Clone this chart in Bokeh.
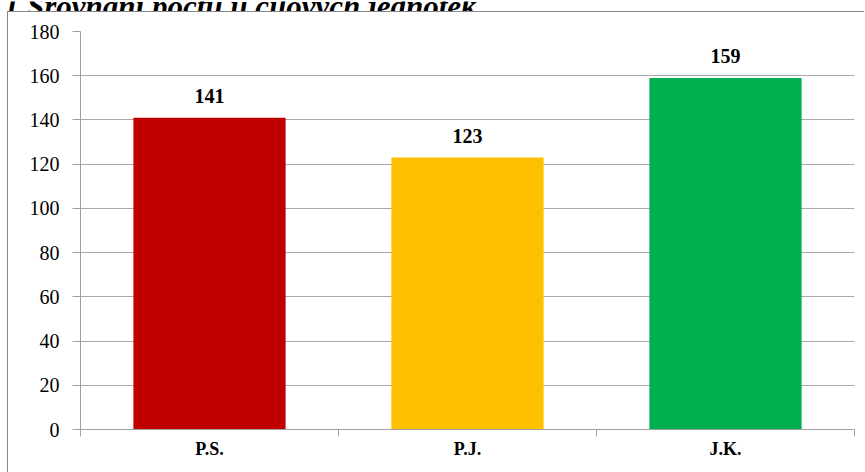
from bokeh.plotting import figure
from bokeh.layouts import column, row
from bokeh.models import (ColumnDataSource, Range1d, FixedTicker, LabelSet, Label)
from bokeh.embed import file_html
from bokeh.resources import INLINE

categories = ["P.S.", "P.J.", "J.K."]
values = [141, 123, 159]
colors = ["#C00000", "#FFC000", "#00B050"]
y_ticks = [0, 20, 40, 60, 80, 100, 120, 140, 160, 180]
title_text = "Graf č. 1 Srovnání počtu u cílových jednotek"

FONT = "Liberation Serif"

# --- title strip (text is cut by the top edge, as in the reference) ---
t = figure(width=865, height=11, output_backend="svg", toolbar_location=None,
           x_range=Range1d(0, 865), y_range=Range1d(0, 11),
           x_axis_location=None, y_axis_location=None,
           min_border=0, min_border_left=0, min_border_right=0,
           min_border_top=0, min_border_bottom=0)
t.outline_line_color = None
t.xgrid.visible = False
t.ygrid.visible = False
t.add_layout(Label(x=476, y=6, text=title_text, text_font=FONT,
                   text_font_style="bold italic", text_font_size="31px",
                   text_baseline="alphabetic", text_align="right",
                   text_color="black"))

# --- chart ---
xs = [i + 0.5 for i in range(len(categories))]
src = ColumnDataSource(dict(x=xs, top=values, color=colors,
                            label=[str(v) for v in values]))

p = figure(width=857, height=461, output_backend="svg", toolbar_location=None,
           x_range=Range1d(0, len(categories)), y_range=Range1d(0, 180),
           min_border_left=72, min_border_right=11, min_border_top=19,
           min_border_bottom=44)
p.margin = (0, 0, 0, 7)
p.styles = {"border-left": "1px solid #888888", "border-top": "1px solid #888888"}
p.outline_line_color = None
p.background_fill_color = "white"
p.border_fill_color = "white"

p.vbar(x="x", top="top", width=0.59, bottom=0, fill_color="color",
       line_color=None, source=src)

# y axis
p.yaxis.ticker = FixedTicker(ticks=y_ticks)
p.yaxis.axis_line_color = "#A0A0A0"
p.yaxis.major_tick_line_color = "#A0A0A0"
p.yaxis.major_tick_out = 8
p.yaxis.major_tick_in = 0
p.yaxis.minor_tick_line_color = None
p.yaxis.major_label_standoff = 13
p.yaxis.major_label_text_font = FONT
p.yaxis.major_label_text_font_size = "20px"
p.yaxis.major_label_text_color = "black"

# x axis: labels at centres, tick marks at category boundaries
p.xaxis.ticker = FixedTicker(ticks=xs, minor_ticks=list(range(len(categories) + 1)))
p.xaxis.major_label_overrides = {x: c for x, c in zip(xs, categories)}
p.xaxis.major_tick_line_color = None
p.xaxis.major_tick_out = 0
p.xaxis.major_tick_in = 0
p.xaxis.minor_tick_line_color = "#A0A0A0"
p.xaxis.minor_tick_out = 7
p.xaxis.minor_tick_in = 0
p.xaxis.axis_line_color = "#A0A0A0"
p.xaxis.major_label_standoff = 2
p.xaxis.major_label_text_font = FONT
p.xaxis.major_label_text_font_style = "bold"
p.xaxis.major_label_text_font_size = "18px"
p.xaxis.major_label_text_color = "black"

p.xgrid.grid_line_color = None
p.ygrid.ticker = FixedTicker(ticks=y_ticks)
p.ygrid.grid_line_color = "#A8A8A8"

labels = LabelSet(x="x", y="top", text="label", source=src, y_offset=15,
                  text_align="center", text_baseline="bottom",
                  text_font=FONT, text_font_style="bold",
                  text_font_size="20px", text_color="black")
p.add_layout(labels)

layout = column(row(t), row(p), spacing=0)
open("out.html", "w").write(file_html(layout, INLINE))
